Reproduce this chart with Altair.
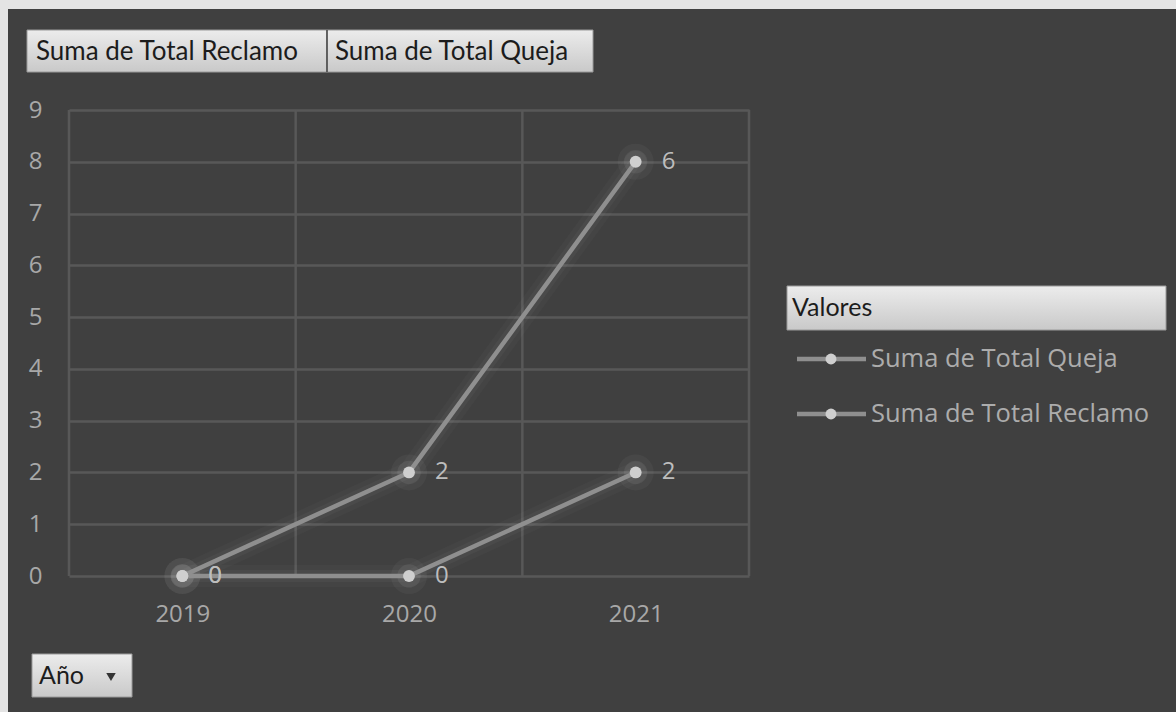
import altair as alt
import pandas as pd

# ---- data ----
years = [2019, 2020, 2021]
reclamo = [0, 0, 2]
queja = [0, 2, 6]
series_names = ["Suma de Total Reclamo", "Suma de Total Queja"]
legend_order = ["Suma de Total Queja", "Suma de Total Reclamo"]
y_ticks = list(range(0, 10))
x_bounds = [2018.5, 2019.5, 2020.5, 2021.5]

# stacked line: Queja sits on top of Reclamo
rows = []
for i, yr in enumerate(years):
    rows.append({"year": yr, "series": series_names[0], "pos": reclamo[i], "label": reclamo[i]})
    rows.append({"year": yr, "series": series_names[1], "pos": reclamo[i] + queja[i], "label": queja[i]})
df = pd.DataFrame(rows)
bounds_df = pd.DataFrame({"year": x_bounds})

W, H = 680, 466
L, T = 69, 110
BG = "#404040"
GRID = "#585858"
LINE = "#8f8f8f"
MARK = "#cfcfcf"
TXT = "#a8a8a8"
FONT = "Open Sans"
BTN_FONT = "Lato"

xs = alt.Scale(domain=[2018.5, 2021.5], nice=False, zero=False)
ys = alt.Scale(domain=[0, 9], nice=False)

x_axis = alt.Axis(values=years, format="d", grid=False, ticks=False, domain=False,
                  labelFontSize=24, labelFont=FONT, labelColor=TXT, labelPadding=26)
y_axis = alt.Axis(values=y_ticks, grid=True, gridColor=GRID, gridWidth=2.5, ticks=False,
                  domain=False, labelFontSize=24, labelFont=FONT, labelColor=TXT,
                  labelPadding=27)

base = alt.Chart(df)

axes = base.mark_point(opacity=0).encode(
    x=alt.X("year:Q", scale=xs, title=None, axis=x_axis),
    y=alt.Y("pos:Q", scale=ys, title=None, axis=y_axis),
)

vgrid = alt.Chart(bounds_df).mark_rule(color=GRID, strokeWidth=2.5).encode(
    x=alt.X("year:Q", scale=xs, title=None, axis=x_axis),
    y=alt.value(0), y2=alt.value(H),
)

enc = dict(
    x=alt.X("year:Q", scale=xs, title=None, axis=x_axis),
    y=alt.Y("pos:Q", scale=ys, title=None, axis=y_axis),
    detail="series:N",
)

glow1 = base.mark_line(color="white", strokeWidth=22, opacity=0.025, strokeCap="round").encode(**enc)
glow2 = base.mark_line(color="white", strokeWidth=12, opacity=0.035, strokeCap="round").encode(**enc)
lines = base.mark_line(color=LINE, strokeWidth=4.5).encode(**enc)
halo1 = base.mark_circle(color="white", size=1300, opacity=0.04).encode(**enc)
halo2 = base.mark_circle(color="white", size=550, opacity=0.065).encode(**enc)
dots = base.mark_circle(color=MARK, size=140, opacity=1).encode(**enc)
labels = base.mark_text(align="left", baseline="middle", dx=26, fontSize=24, font=FONT,
                        color="#bdbdbd").encode(text="label:Q", **enc)

# ---- frame / decorations ----
deco_df = pd.DataFrame({"k": [0]})
deco = alt.Chart(deco_df)

def grad():
    return alt.Gradient(gradient="linear", x1=0, x2=0, y1=0, y2=1,
                        stops=[alt.GradientStop(color="#ececec", offset=0),
                               alt.GradientStop(color="#c9c9c9", offset=1)])

def box(x1, y1, x2, y2):
    return deco.mark_rect(fill=grad(), stroke="#9a9a9a", strokeWidth=1).encode(
        x=alt.value(x1 - L), x2=alt.value(x2 - L), y=alt.value(y1 - T), y2=alt.value(y2 - T))

def label(txt, x, y, size=26, color="#1c1c1c", font=BTN_FONT):
    return deco.mark_text(text=txt, align="left", baseline="middle", fontSize=size,
                          font=font, color=color).encode(x=alt.value(x - L), y=alt.value(y - T))

left_strip = deco.mark_rect(color="#e4e4e4").encode(
    x=alt.value(-L), x2=alt.value(8 - L), y=alt.value(-T), y2=alt.value(712 - T))
top_strip = deco.mark_rect(color="#e4e4e4").encode(
    x=alt.value(-L), x2=alt.value(1176 - L), y=alt.value(-T), y2=alt.value(9 - T))

btn1 = box(27, 30, 327, 72)
btn2 = box(327, 30, 593, 72)
divider = deco.mark_rule(color="#444444", strokeWidth=1.5).encode(
    x=alt.value(327 - L), y=alt.value(30 - T), y2=alt.value(72 - T))
t1 = label(series_names[0], 36, 52)
t2 = label(series_names[1], 335, 52)

ano_btn = box(32, 654, 132, 697)
ano_t = label("Año", 39, 676, size=25)
ano_tri = deco.mark_point(shape="triangle-down", filled=True, size=90, color="#333333",
                          opacity=1).encode(x=alt.value(111 - L), y=alt.value(677 - T))

val_btn = box(787, 286, 1166, 330)
val_t = label("Valores", 792, 308, size=25)

leg_layers = []
for i, name in enumerate(legend_order):
    yy = [359, 414][i]
    leg_layers.append(deco.mark_rule(color=LINE, strokeWidth=4.5).encode(
        x=alt.value(797 - L), x2=alt.value(866 - L), y=alt.value(yy - T)))
    leg_layers.append(deco.mark_circle(color=MARK, size=120, opacity=1).encode(
        x=alt.value(831 - L), y=alt.value(yy - T)))
    leg_layers.append(label(name, 871, yy, size=25.5, color="#acacac", font=FONT))

chart = alt.layer(
    left_strip, top_strip, vgrid, axes, glow1, glow2, halo1, halo2, lines, dots, labels,
    btn1, btn2, divider, t1, t2, ano_btn, ano_t, ano_tri, val_btn, val_t, *leg_layers,
).properties(
    width=W, height=H,
    autosize=alt.AutoSizeParams(type="none"),
    padding={"left": L, "top": T, "right": 1176 - L - W, "bottom": 712 - T - H},
    background=BG,
).configure_view(stroke=None)

chart.save("out.html", embed_options={"renderer": "svg", "actions": False})
